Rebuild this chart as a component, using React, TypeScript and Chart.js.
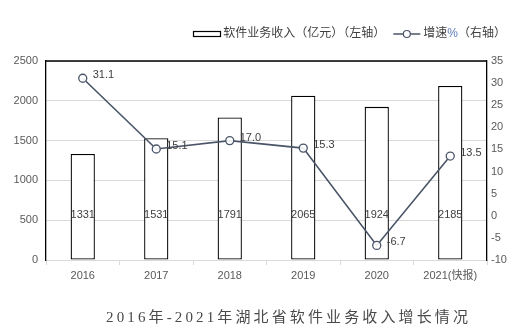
import React, { useEffect, useRef } from 'react';
import { Chart, registerables } from 'chart.js';
Chart.register(...registerables);

const categories = ['2016', '2017', '2018', '2019', '2020', '2021(快报)'];
const revenue = [1331, 1531, 1791, 2065, 1924, 2185];
const growth = [31.1, 15.1, 17.0, 15.3, -6.7, 13.5];
const leftTickStep = 500;
const rightTickStep = 5;
const barLegendText = '软件业务收入（亿元）（左轴）';
const lineLegendParts = ['增速', '%', '（右轴）'];
const titleText = '2016年-2021年湖北省软件业务收入增长情况';
const barLabelLevel = 560;

const LINE_COLOR = '#4A5568';
const TEXT = '#404040';
const TICK = '#595959';
const SANS = '"Liberation Sans", "Noto Sans CJK SC", sans-serif';

const overlay = {
  id: 'overlay',
  afterDraw(chart: any) {
    const ctx = chart.ctx;
    const a = chart.chartArea;
    ctx.save();
    // top border
    ctx.strokeStyle = '#000';
    ctx.lineWidth = 1.3;
    ctx.beginPath();
    ctx.moveTo(a.left, a.top);
    ctx.lineTo(a.right, a.top);
    ctx.stroke();

    // bar labels
    ctx.font = '11px ' + SANS;
    ctx.fillStyle = TEXT;
    ctx.textAlign = 'center';
    ctx.textBaseline = 'middle';
    const barMeta = chart.getDatasetMeta(1);
    const ly = chart.scales.y.getPixelForValue(barLabelLevel);
    barMeta.data.forEach((el: any, i: number) => {
      ctx.fillText(String(revenue[i]), el.x, ly);
    });

    // line labels
    ctx.textAlign = 'left';
    const lineMeta = chart.getDatasetMeta(0);
    lineMeta.data.forEach((p: any, i: number) => {
      ctx.fillText(growth[i].toFixed(1), p.x + 10, p.y - 3);
    });

    // legend
    ctx.font = '12px ' + SANS;
    ctx.textBaseline = 'middle';
    const ly2 = 34;
    const w1 = ctx.measureText(barLegendText).width;
    const wParts = lineLegendParts.map((t) => ctx.measureText(t).width);
    const w2 = wParts.reduce((s, v) => s + v, 0);
    const total = 27 + 3 + w1 + 8 + 27 + 3 + w2;
    let x = 506 - total;
    ctx.strokeStyle = '#000';
    ctx.lineWidth = 1.2;
    ctx.strokeRect(Math.round(x) + 0.5, ly2 - 2.5, 27, 5);
    x += 30;
    ctx.fillStyle = TEXT;
    ctx.fillText(barLegendText, x, ly2);
    x += w1 + 8;
    ctx.strokeStyle = LINE_COLOR;
    ctx.lineWidth = 1.5;
    ctx.beginPath();
    ctx.moveTo(x, ly2);
    ctx.lineTo(x + 27, ly2);
    ctx.stroke();
    ctx.beginPath();
    ctx.arc(x + 13.5, ly2, 3.5, 0, Math.PI * 2);
    ctx.fillStyle = '#fff';
    ctx.fill();
    ctx.lineWidth = 1.2;
    ctx.stroke();
    x += 30;
    lineLegendParts.forEach((t, i) => {
      ctx.fillStyle = i === 1 ? '#5B7DB8' : TEXT;
      ctx.fillText(t, x, ly2);
      x += wParts[i];
    });

    // title
    ctx.font = '15px "Liberation Serif", "Noto Sans CJK SC", serif';
    ctx.fillStyle = '#4a4a4a';
    const chars = Array.from(titleText);
    const cw = chars.map((c) => ctx.measureText(c).width);
    const raw = cw.reduce((s, v) => s + v, 0);
    const target = 362;
    const gap = (target - raw) / (chars.length - 1);
    let tx = 287 - target / 2;
    chars.forEach((c, i) => {
      ctx.fillText(c, tx, 318);
      tx += cw[i] + gap;
    });
    ctx.restore();
  },
};

export default function App() {
  const ref = useRef<HTMLCanvasElement>(null);
  useEffect(() => {
    document.body.style.margin = '0';
    const chart = new Chart(ref.current!, {
      type: 'bar',
      data: {
        labels: categories,
        datasets: [
          {
            type: 'line',
            data: growth,
            yAxisID: 'y1',
            order: 0,
            borderColor: LINE_COLOR,
            borderWidth: 1.6,
            pointRadius: 4,
            pointBackgroundColor: 'rgba(255,255,255,0.9)',
            pointBorderColor: LINE_COLOR,
            pointBorderWidth: 1.3,
            tension: 0,
          } as any,
          {
            type: 'bar',
            data: revenue,
            yAxisID: 'y',
            order: 1,
            backgroundColor: '#fff',
            borderColor: '#000',
            borderWidth: 1.3,
            borderSkipped: false,
            barPercentage: 0.33,
            categoryPercentage: 1,
          } as any,
        ],
      },
      options: {
        responsive: false,
        animation: false,
        layout: { padding: { top: 61, left: 0, right: 0, bottom: 0 } },
        plugins: { legend: { display: false }, tooltip: { enabled: false } },
        scales: {
          x: {
            grid: { offset: true, drawOnChartArea: false, tickLength: 5, color: '#D9D9D9' },
            border: { color: '#D9D9D9' },
            ticks: { font: { size: 11, family: SANS }, color: TICK, padding: 4, maxRotation: 0 },
            afterFit: (s: any) => { s.height = 75; },
          },
          y: {
            position: 'left',
            min: 0,
            max: 2500,
            ticks: { stepSize: leftTickStep, font: { size: 11, family: SANS }, color: TICK, padding: 8, callback: (v: any) => String(v) },
            grid: { color: '#D9D9D9', drawTicks: false },
            border: { color: '#000', width: 1.3 },
            afterFit: (s: any) => { s.width = 46; },
          },
          y1: {
            position: 'right',
            min: -10,
            max: 35,
            ticks: { stepSize: rightTickStep, font: { size: 11, family: SANS }, color: TICK, padding: 4, callback: (v: any) => String(v) },
            grid: { drawOnChartArea: false, drawTicks: false },
            border: { color: '#000', width: 1.3 },
            afterFit: (s: any) => { s.width = 38; },
          },
        },
      },
      plugins: [overlay],
    });
    return () => chart.destroy();
  }, []);
  return <canvas ref={ref} width={525} height={335} style={{ display: 'block', width: 525, height: 335 }} />;
}
